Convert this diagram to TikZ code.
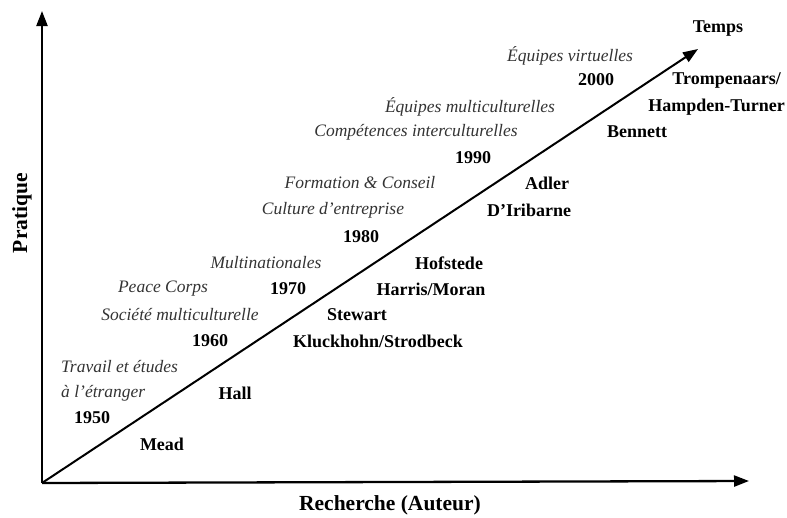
\documentclass[tikz,border=0pt]{standalone}
\usepackage{fontspec}
\setmainfont{Liberation Serif}
\usetikzlibrary{arrows.meta}
\begin{document}
\begin{tikzpicture}[x=1pt,y=-1pt,
  axis/.style={line width=2.3pt,-{Triangle[length=15pt,width=11pt]}},
  author/.style={inner sep=0pt,font=\fontsize{18}{20}\selectfont\bfseries},
  year/.style={inner sep=0pt,font=\fontsize{18}{20}\selectfont\bfseries},
  practice/.style={inner sep=0pt,text=black!80,font=\fontsize{17.5}{20}\selectfont\itshape},
  axislabel/.style={inner sep=0pt,font=\fontsize{21.5}{24}\selectfont\bfseries}]
\useasboundingbox (0,0) rectangle (787,517);

% axes and time arrow
\coordinate (O) at (42,483);
\coordinate (Ytip) at (42,11);
\coordinate (Xtip) at (749,481);
\coordinate (Ttip) at (698,49);
\draw[axis] (O) -- (Ytip);
\draw[axis] (O) -- (Xtip);
\draw[axis,line width=2pt] (O) -- (Ttip);

\node[axislabel] (research) at (390,505) {Recherche (Auteur)};
\node[axislabel,rotate=90] (practiceaxis) at (22,213) {Pratique};
\node[author] (time) at (718,29) {Temps};

% decades
\node[year] (y1950) at (92,418) {1950};
\node[year] (y1960) at (210,341) {1960};
\node[year] (y1970) at (288,289) {1970};
\node[year] (y1980) at (361,237) {1980};
\node[year] (y1990) at (473,158) {1990};
\node[year] (y2000) at (596,80) {2000};

% practice side
\node[practice,anchor=west] (p1a) at (61,367) {Travail et études};
\node[practice,anchor=west] (p1b) at (61,393) {à l’étranger};
\node[practice] (p2) at (180,315) {Société multiculturelle};
\node[practice] (p3) at (163,289) {Peace Corps};
\node[practice] (p4) at (266,263) {Multinationales};
\node[practice] (p5) at (333,210) {Culture d’entreprise};
\node[practice] (p6) at (360,183) {Formation \& Conseil};
\node[practice] (p7) at (416,132) {Compétences interculturelles};
\node[practice] (p8) at (470,107) {Équipes multiculturelles};
\node[practice] (p9) at (570,56) {Équipes virtuelles};

% research side
\node[author] (mead) at (162,444) {Mead};
\node[author] (hall) at (235,393) {Hall};
\node[author] (kluck) at (378,341) {Kluckhohn/Strodbeck};
\node[author] (stewart) at (357,315) {Stewart};
\node[author] (harris) at (431,289) {Harris/Moran};
\node[author] (hofstede) at (449,263) {Hofstede};
\node[author] (iribarne) at (529,210) {D’Iribarne};
\node[author] (adler) at (547,183) {Adler};
\node[author] (bennett) at (637,132) {Bennett};
\node[author,anchor=east] (tromp) at (781,80) {Trompenaars/};
\node[author,anchor=east] (hampden) at (785,107) {Hampden-Turner};
\end{tikzpicture}
\end{document}
